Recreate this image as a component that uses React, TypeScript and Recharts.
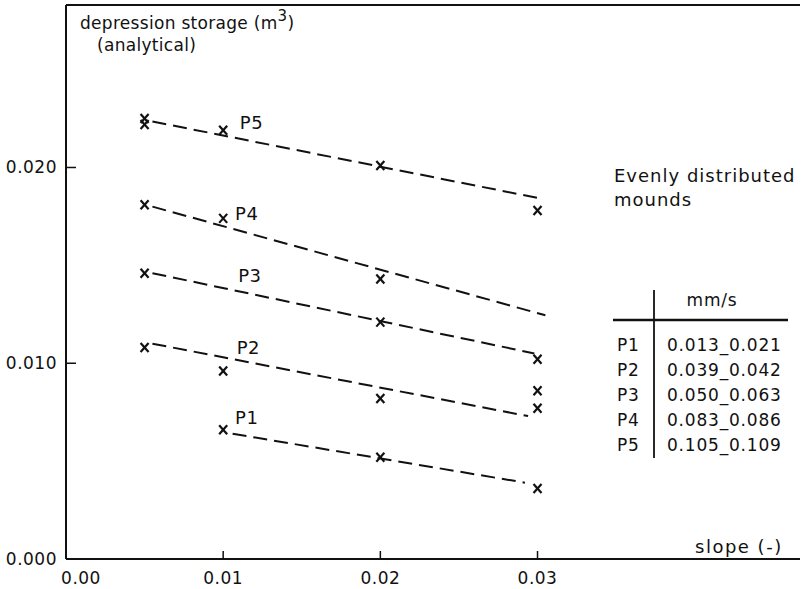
import React from 'react';
import { ComposedChart, XAxis, YAxis, Line, Scatter, ReferenceLine, Customized } from 'recharts';

// ---- data ----
const xTicks = [0, 0.01, 0.02, 0.03];
const xTickLabels = ['0.00', '0.01', '0.02', '0.03'];
const yTicks = [0, 0.01, 0.02];
const yTickLabels = ['0.000', '0.010', '0.020'];

const p5Points = [
  { x: 0.005, y: 0.0225 }, { x: 0.005, y: 0.0222 }, { x: 0.01, y: 0.0219 },
  { x: 0.02, y: 0.0201 }, { x: 0.03, y: 0.0178 },
];
const p4Points = [
  { x: 0.005, y: 0.0181 }, { x: 0.01, y: 0.0174 }, { x: 0.02, y: 0.0143 },
];
const p3Points = [
  { x: 0.005, y: 0.0146 }, { x: 0.02, y: 0.0121 }, { x: 0.03, y: 0.0102 },
];
const p2Points = [
  { x: 0.005, y: 0.0108 }, { x: 0.01, y: 0.0096 }, { x: 0.02, y: 0.0082 },
  { x: 0.03, y: 0.0086 }, { x: 0.03, y: 0.0077 },
];
const p1Points = [
  { x: 0.01, y: 0.0066 }, { x: 0.02, y: 0.0052 }, { x: 0.03, y: 0.0036 },
];

const p5Fit = [{ x: 0.0055, y: 0.02235 }, { x: 0.0303, y: 0.0184 }];
const p4Fit = [{ x: 0.0055, y: 0.0180 }, { x: 0.0305, y: 0.01245 }];
const p3Fit = [{ x: 0.0055, y: 0.0146 }, { x: 0.0298, y: 0.0105 }];
const p2Fit = [{ x: 0.0055, y: 0.0110 }, { x: 0.0294, y: 0.0073 }];
const p1Fit = [{ x: 0.0106, y: 0.0064 }, { x: 0.0292, y: 0.0039 }];

const seriesLabels = ['P5', 'P4', 'P3', 'P2', 'P1'];
const seriesLabelPos = [
  { x: 0.0118, y: 0.0223 },
  { x: 0.0115, y: 0.01765 },
  { x: 0.0117, y: 0.0145 },
  { x: 0.0116, y: 0.0108 },
  { x: 0.0115, y: 0.0072 },
];

const tableHeader = 'mm/s';
const tableRows = ['P1', 'P2', 'P3', 'P4', 'P5'];
const tableRanges = ['0.013_0.021', '0.039_0.042', '0.050_0.063', '0.083_0.086', '0.105_0.109'];

const X_MAX = 0.0467;
const Y_MAX = 0.0283;

const FONT = 'DejaVu Sans';
const INK = '#111';

const XTick = (props: any) => {
  const { x, y, payload } = props;
  const i = xTicks.indexOf(payload.value);
  const shift = payload.value === 0 ? 15 : 0;
  return (
    <g>
      {payload.value !== 0 && <line x1={x} x2={x} y1={y} y2={y - 8} stroke={INK} strokeWidth={1.5} />}
      <text x={x + shift} y={y + 25} textAnchor="middle" fontFamily={FONT} fontSize={17} letterSpacing={0.5} fill={INK}>
        {xTickLabels[i] ?? payload.value}
      </text>
    </g>
  );
};

const YTick = (props: any) => {
  const { x, y, payload } = props;
  const i = yTicks.indexOf(payload.value);
  return (
    <g>
      {payload.value !== 0 && <line x1={x} x2={x + 10} y1={y} y2={y} stroke={INK} strokeWidth={1.5} />}
      <text x={x - 9} y={y + 6} textAnchor="end" fontFamily={FONT} fontSize={17} letterSpacing={0.5} fill={INK}>
        {yTickLabels[i] ?? payload.value}
      </text>
    </g>
  );
};

const Cross = (props: any) => {
  const { cx, cy } = props;
  if (cx == null || cy == null) return <g />;
  const w = 4, h = 4.5;
  return (
    <g>
      <line x1={cx - w} y1={cy - h} x2={cx + w} y2={cy + h} stroke={INK} strokeWidth={2.2} />
      <line x1={cx + w} y1={cy - h} x2={cx - w} y2={cy + h} stroke={INK} strokeWidth={2.2} />
    </g>
  );
};

const Annotations = (props: any) => {
  const t = { fontFamily: FONT, fontSize: 17, fill: INK, letterSpacing: 0.8 } as any;
  const rowY = [351, 376, 401, 426, 451];
  return (
    <g>
      <text x={80} y={29} {...t} letterSpacing={0.3}>
        depression storage (m<tspan dy={-8} fontSize={15}>3</tspan><tspan dy={8}>)</tspan>
      </text>
      <text x={97} y={51} {...t} letterSpacing={0.3}>(analytical)</text>
      <text x={614} y={182} {...t} fontSize={18} letterSpacing={1}>Evenly distributed</text>
      <text x={614} y={206} {...t} fontSize={18} letterSpacing={1}>mounds</text>
      <text x={695} y={553} {...t} fontSize={18} letterSpacing={1.5}>slope (-)</text>
      <line x1={654} x2={654} y1={290} y2={458} stroke={INK} strokeWidth={1.8} />
      <line x1={613} x2={788} y1={320} y2={320} stroke={INK} strokeWidth={2.5} />
      <text x={712} y={306} textAnchor="middle" {...t}>{tableHeader}</text>
      {tableRows.map((r, i) => (
        <g key={r}>
          <text x={617} y={rowY[i]} {...t}>{r}</text>
          <text x={667} y={rowY[i]} {...t}>{tableRanges[i]}</text>
        </g>
      ))}
    </g>
  );
};

const lineProps = {
  type: 'linear' as const,
  dataKey: 'y',
  stroke: INK,
  strokeWidth: 2,
  strokeDasharray: '14 7',
  dot: false,
  activeDot: false,
  isAnimationActive: false,
  legendType: 'none' as const,
};

export default function App() {
  return (
    <div style={{ position: 'absolute', left: 0, top: 0, width: 806, height: 589, background: '#fff' }}>
      <ComposedChart width={806} height={589} margin={{ top: 5, right: 6, bottom: 6, left: 6 }}>
        <XAxis
          type="number"
          dataKey="x"
          domain={[0, X_MAX]}
          ticks={xTicks}
          allowDataOverflow
          height={24}
          tickSize={0}
          tickMargin={0}
          tickLine={false}
          axisLine={{ stroke: INK, strokeWidth: 2 }}
          tick={<XTick />}
          interval={0}
        />
        <YAxis
          type="number"
          dataKey="y"
          domain={[0, Y_MAX]}
          ticks={yTicks}
          allowDataOverflow
          width={60}
          tickSize={0}
          tickMargin={0}
          tickLine={false}
          axisLine={{ stroke: INK, strokeWidth: 2 }}
          tick={<YTick />}
          interval={0}
        />
        <ReferenceLine y={Y_MAX} stroke={INK} strokeWidth={2} ifOverflow="extendDomain" />
        <Line data={p5Fit} {...lineProps} />
        <Line data={p4Fit} {...lineProps} />
        <Line data={p3Fit} {...lineProps} />
        <Line data={p2Fit} {...lineProps} />
        <Line data={p1Fit} {...lineProps} />
        <Scatter data={p5Points} dataKey="y" shape={<Cross />} isAnimationActive={false} />
        <Scatter data={p4Points} dataKey="y" shape={<Cross />} isAnimationActive={false} />
        <Scatter data={p3Points} dataKey="y" shape={<Cross />} isAnimationActive={false} />
        <Scatter data={p2Points} dataKey="y" shape={<Cross />} isAnimationActive={false} />
        <Scatter data={p1Points} dataKey="y" shape={<Cross />} isAnimationActive={false} />
        {seriesLabels.map((s, i) => (
          <ReferenceLine
            key={s}
            segment={[seriesLabelPos[i], seriesLabelPos[i]]}
            stroke="none"
            label={{ value: s, position: 'center', fontFamily: FONT, fontSize: 18, letterSpacing: 0.5, fill: INK }}
          />
        ))}
        <Customized component={Annotations} />
      </ComposedChart>
    </div>
  );
}
